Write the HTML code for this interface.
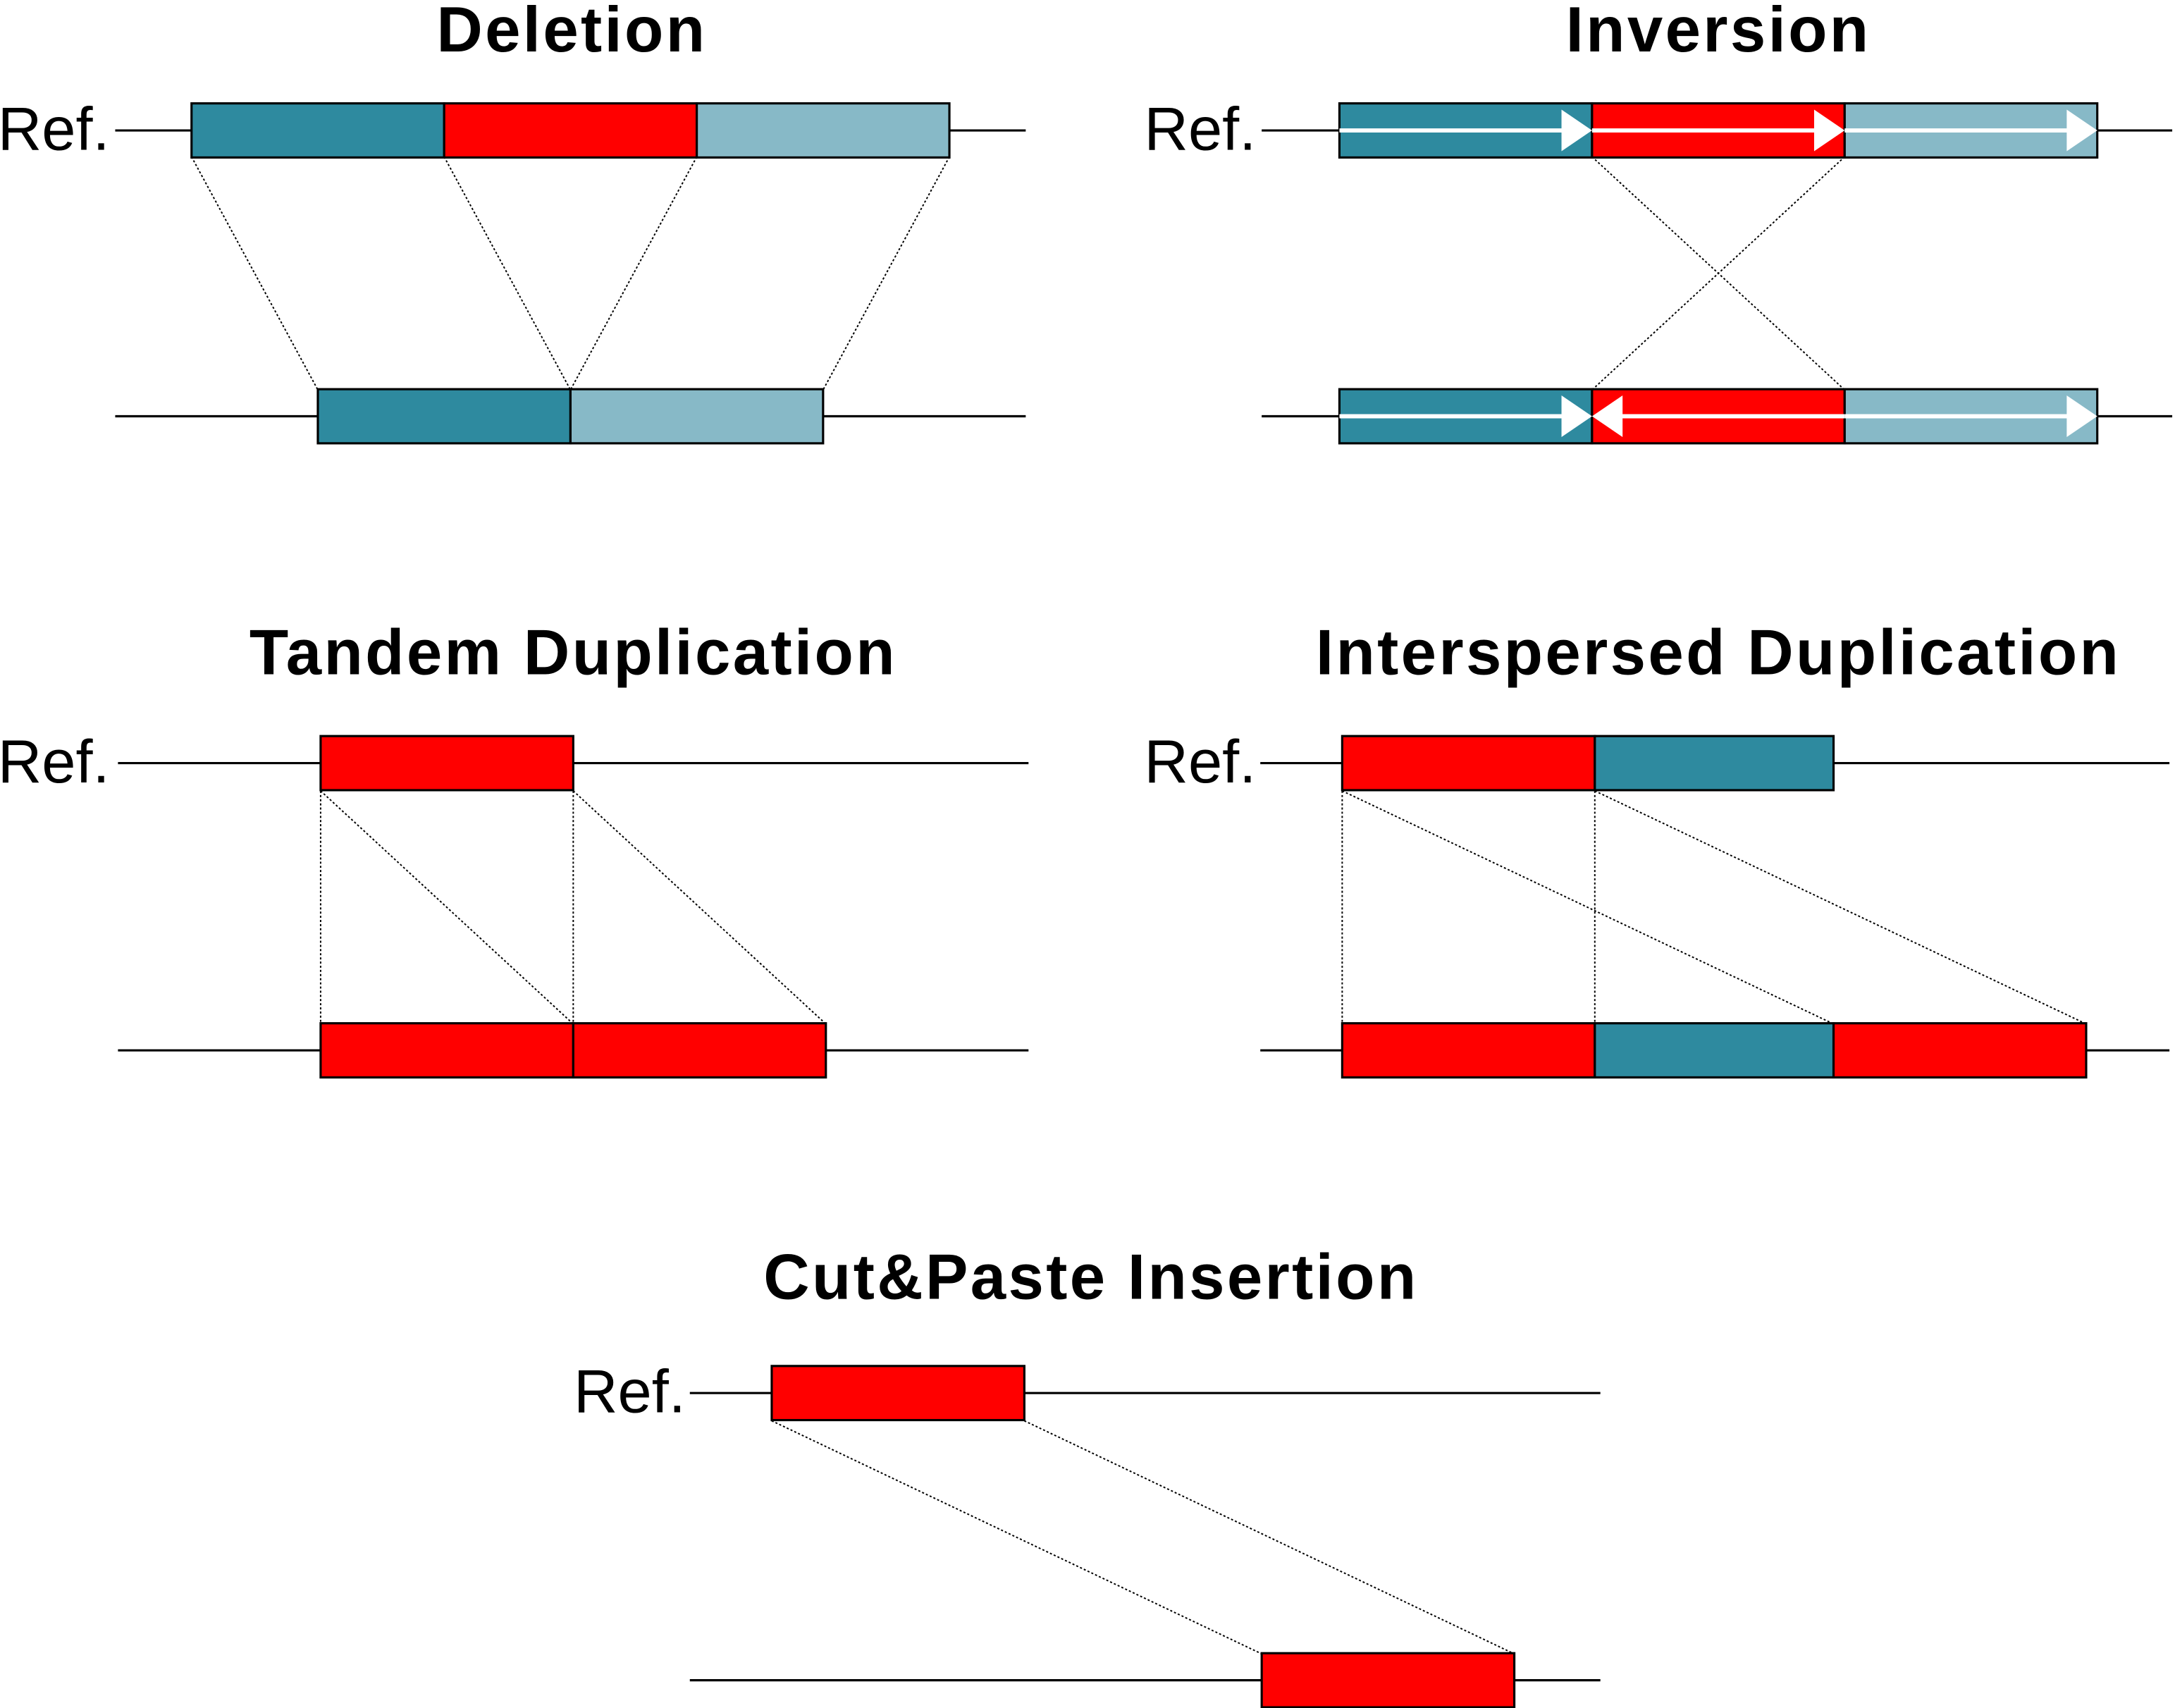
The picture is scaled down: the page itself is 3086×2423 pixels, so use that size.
<!DOCTYPE html>
<html><head><meta charset="utf-8"><style>
html,body{margin:0;padding:0;background:#fff;}
svg{display:block;}
text{font-family:"Liberation Sans",sans-serif;}
</style></head><body>
<svg id="fig" width="3086" height="2423" viewBox="0 0 1567 1231" preserveAspectRatio="none" xmlns="http://www.w3.org/2000/svg"></svg>
<script>
const NS="http://www.w3.org/2000/svg";
const svg=document.getElementById('fig');
const TEAL="#2e8a9f",RED="#ff0000",LIGHT="#87b9c7";
const titles=["Deletion","Inversion","Tandem Duplication","Interspersed Duplication","Cut&Paste Insertion"];
const titleX=[412,1238,413,1238,786];
const titleY=[37,37,486,486,936];
function el(tag,attrs,name,parent){const e=document.createElementNS(NS,tag);for(const k in attrs)e.setAttribute(k,attrs[k]);


(parent||svg).appendChild(e);return e;}
function line(x1,y1,x2,y2,name,dotted){el('line',{x1,y1,x2,y2,stroke:'#000','stroke-width':dotted?1:1.6,'stroke-dasharray':dotted?'1.5,1.5':'none'},name);}
function box(x1,x2,y,fill,name){el('rect',{x:x1,y:y-19.5,width:x2-x1,height:39,fill,stroke:'#000','stroke-width':1.6},name);}
function txt(s,x,y,size,weight,anchor,name,ls){const t=el('text',{x,y,'font-size':size,'font-weight':weight,'text-anchor':anchor,'letter-spacing':ls||0},name);t.textContent=s;}
function arrow(x1,x2,y,name){const dir=x2>x1?1:-1;
el('line',{x1,y1:y,x2:x2-dir*16,y2:y,stroke:'#fff','stroke-width':3},name+'-shaft');
el('polygon',{points:`${x2},${y} ${x2-dir*22},${y-15} ${x2-dir*22},${y+15}`,fill:'#fff'},name+'-head');}
titles.forEach((t,i)=>txt(t,titleX[i],titleY[i],46,'bold','middle','title-'+t.toLowerCase().replace(/[^a-z]+/g,'-'),1.7));
// Deletion
txt("Ref.",79,108,44,'normal','end','deletion-ref-label');
line(83,94,739,94,'deletion-ref-line');
box(138,320,94,TEAL,'deletion-ref-a');box(320,502,94,RED,'deletion-ref-deleted');box(502,684,94,LIGHT,'deletion-ref-b');
line(83,300,739,300,'deletion-alt-line');
box(229,411,300,TEAL,'deletion-alt-a');box(411,593,300,LIGHT,'deletion-alt-b');
line(138,113,229,281,'deletion-map-1',1);line(320,113,411,281,'deletion-map-2',1);line(502,113,411,281,'deletion-map-3',1);line(684,113,593,281,'deletion-map-4',1);
// Inversion
txt("Ref.",905,108,44,'normal','end','inversion-ref-label');
line(909,94,1565,94,'inversion-ref-line');
box(965,1147,94,TEAL,'inversion-ref-a');box(1147,1329,94,RED,'inversion-ref-inv');box(1329,1511,94,LIGHT,'inversion-ref-b');
arrow(965,1147,94,'inv-ref-arrow-1');arrow(1147,1329,94,'inv-ref-arrow-2');arrow(1329,1511,94,'inv-ref-arrow-3');
line(909,300,1565,300,'inversion-alt-line');
box(965,1147,300,TEAL,'inversion-alt-a');box(1147,1329,300,RED,'inversion-alt-inv');box(1329,1511,300,LIGHT,'inversion-alt-b');
arrow(965,1147,300,'inv-alt-arrow-1');arrow(1329,1147,300,'inv-alt-arrow-2');arrow(1329,1511,300,'inv-alt-arrow-3');
line(1147,113,1329,281,'inversion-map-1',1);line(1329,113,1147,281,'inversion-map-2',1);
// Tandem
txt("Ref.",79,564,44,'normal','end','tandem-ref-label');
line(85,550,741,550,'tandem-ref-line');box(231,413,550,RED,'tandem-ref-dup');
line(85,757,741,757,'tandem-alt-line');box(231,413,757,RED,'tandem-alt-dup-1');box(413,595,757,RED,'tandem-alt-dup-2');
line(231,570,231,738,'tandem-map-1',1);line(413,570,413,738,'tandem-map-2',1);line(231,570,413,738,'tandem-map-3',1);line(413,570,595,738,'tandem-map-4',1);
// Interspersed
txt("Ref.",905,564,44,'normal','end','interspersed-ref-label');
line(908,550,1563,550,'interspersed-ref-line');box(967,1149,550,RED,'interspersed-ref-dup');box(1149,1321,550,TEAL,'interspersed-ref-spacer');
line(908,757,1563,757,'interspersed-alt-line');
box(967,1149,757,RED,'interspersed-alt-dup-1');box(1149,1321,757,TEAL,'interspersed-alt-spacer');box(1321,1503,757,RED,'interspersed-alt-dup-2');
line(967,570,967,738,'interspersed-map-1',1);line(1149,570,1149,738,'interspersed-map-2',1);line(967,570,1321,738,'interspersed-map-3',1);line(1149,570,1503,738,'interspersed-map-4',1);
// Cut&Paste
txt("Ref.",494,1018,44,'normal','end','cutpaste-ref-label');
line(497,1004,1153,1004,'cutpaste-ref-line');box(556,738,1004,RED,'cutpaste-ref-element');
line(497,1211,1153,1211,'cutpaste-alt-line');box(909,1091,1211,RED,'cutpaste-alt-element');
line(556,1024,909,1192,'cutpaste-map-1',1);line(738,1024,1091,1192,'cutpaste-map-2',1);
</script>
</body></html>
